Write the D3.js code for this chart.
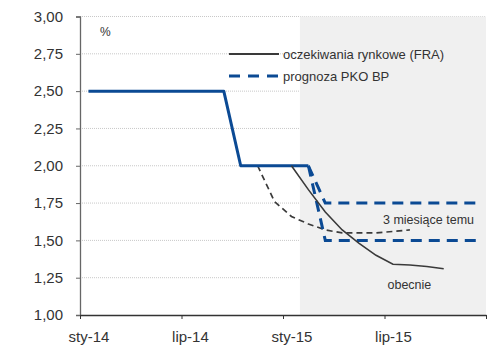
<!DOCTYPE html>
<html>
<head>
<meta charset="utf-8">
<script src="https://cdn.jsdelivr.net/npm/d3@7"></script>
<style>
  html, body { margin: 0; padding: 0; background: #fff; }
  text { font-family: "Liberation Sans", Arial, sans-serif; fill: #333; }
</style>
</head>
<body>
<svg id="chart" width="490" height="347"></svg>
<script>
// Monthly categories Jan-14 .. Dec-15
const months = ["sty-14","lut-14","mar-14","kwi-14","maj-14","cze-14","lip-14","sie-14","wrz-14","paź-14","lis-14","gru-14",
                "sty-15","lut-15","mar-15","kwi-15","maj-15","cze-15","lip-15","sie-15","wrz-15","paź-15","lis-15","gru-15"];
const xTickLabels = ["sty-14","lip-14","sty-15","lip-15"];
const yTicks = [1.00,1.25,1.50,1.75,2.00,2.25,2.50,2.75,3.00];

// NBP reference rate (history, solid blue)
const rateHistory = [2.50,2.50,2.50,2.50,2.50,2.50,2.50,2.50,2.50,2.00,2.00,2.00,2.00,2.00];
// PKO BP forecast 3 months ago (dashed blue)
const pkoForecastOld = [2.50,2.50,2.50,2.50,2.50,2.50,2.50,2.50,2.50,2.00,2.00,2.00,2.00,2.00,1.75,1.75,1.75,1.75,1.75,1.75,1.75,1.75,1.75,1.75];
// PKO BP forecast now (dashed blue)
const pkoForecastNow = [2.50,2.50,2.50,2.50,2.50,2.50,2.50,2.50,2.50,2.00,2.00,2.00,2.00,2.00,1.50,1.50,1.50,1.50,1.50,1.50,1.50,1.50,1.50,1.50];
// FRA market expectations now (solid gray), start index 12
const fraNowStart = 12;
const fraNow = [2.00,1.84,1.69,1.57,1.48,1.40,1.34,1.335,1.325,1.31];
// FRA market expectations 3 months ago (dashed gray), start index 10
const fraOldStart = 10;
const fraOld = [2.00,1.76,1.66,1.61,1.57,1.55,1.55,1.55,1.56,1.57];

const legendLabels = ["oczekiwania rynkowe (FRA)", "prognoza PKO BP"];
const annotations = ["3 miesiące temu", "obecnie"];

const svg = d3.select("#chart");
const blue = "#0b4a94";
const dark = "#3a3a3a";

const x = d3.scaleLinear().domain([0, months.length]).range([80, 486]);
const y = d3.scaleLinear().domain([1, 3]).range([315, 16.5]);
const cx = i => x(i + 0.5);

const fmt = v => d3.format(".2f")(v).replace(".", ",");

// gridlines
svg.append("g").selectAll("line").data(yTicks.filter(v => v > 1)).join("line")
  .attr("x1", x(0)).attr("x2", x(24))
  .attr("y1", d => y(d)).attr("y2", d => y(d))
  .attr("stroke", "#c8c8c8").attr("stroke-width", 1).attr("stroke-dasharray", "1,1");

// shaded forecast area (from Feb-15)
svg.append("rect")
  .attr("x", x(13)).attr("y", y(3))
  .attr("width", x(24) - x(13)).attr("height", y(1) - y(3))
  .attr("fill", "#f0f0f0");

// Y axis
const yAxis = svg.append("g").attr("transform", `translate(${x(0)},0)`)
  .call(d3.axisLeft(y).tickValues(yTicks).tickFormat(fmt).tickSize(4).tickPadding(13));
yAxis.select(".domain").attr("stroke", "#666").attr("stroke-width", 1.3);
yAxis.selectAll(".tick line").attr("stroke", "#666");
yAxis.selectAll("text").style("font-size", "15px").attr("fill", "#333");

// X axis ticks
const xAxis = svg.append("g").attr("transform", `translate(0,${y(1)})`)
  .call(d3.axisBottom(x).tickValues([0,6,12,18,24]).tickFormat("").tickSize(4).tickSizeOuter(0));
xAxis.select(".domain").attr("stroke", "#333").attr("stroke-width", 1.3);
xAxis.selectAll(".tick line").attr("stroke", "#333");

// X labels centred on categories
const labelIdx = xTickLabels.map(l => months.indexOf(l));
const xLab = svg.append("g").attr("transform", `translate(0,${y(1)})`)
  .call(d3.axisBottom(x).tickValues(labelIdx.map(i => i + 0.5))
    .tickFormat((d, i) => xTickLabels[i]).tickSize(0).tickPadding(16));
xLab.select(".domain").remove();
xLab.selectAll("text").style("font-size", "15px").attr("fill", "#333");

// % label
svg.append("text").attr("x", 100).attr("y", 36).style("font-size", "12px").text("%");

const line = d3.line().x(d => cx(d.i)).y(d => y(d.v));
const toPts = (arr, start = 0) => arr.map((v, k) => ({ i: start + k, v }));

// FRA 3 months ago (dashed gray)
svg.append("path").datum(toPts(fraOld, fraOldStart)).attr("d", line)
  .attr("fill", "none").attr("stroke", dark).attr("stroke-width", 1.7).attr("stroke-dasharray", "6,4");

// PKO history solid
svg.append("path").datum(toPts(rateHistory)).attr("d", line)
  .attr("fill", "none").attr("stroke", blue).attr("stroke-width", 3).attr("stroke-linejoin", "round");

// PKO forecasts dashed (from last history point)
[pkoForecastOld, pkoForecastNow].forEach(arr => {
  svg.append("path").datum(toPts(arr.slice(13), 13)).attr("d", line)
    .attr("fill", "none").attr("stroke", blue).attr("stroke-width", 3).attr("stroke-dasharray", "11,7");
});

// FRA now (solid gray)
svg.append("path").datum(toPts(fraNow, fraNowStart)).attr("d", line)
  .attr("fill", "none").attr("stroke", dark).attr("stroke-width", 1.6);

// annotations
svg.append("text").attr("x", 383).attr("y", 224).style("font-size", "12.5px").text(annotations[0]);
svg.append("text").attr("x", 387.5).attr("y", 289).style("font-size", "12.5px").text(annotations[1]);

// legend
const lg = svg.append("g");
lg.append("line").attr("x1", 229).attr("x2", 279).attr("y1", 54).attr("y2", 54)
  .attr("stroke", dark).attr("stroke-width", 1.8);
lg.append("line").attr("x1", 229).attr("x2", 279).attr("y1", 76).attr("y2", 76)
  .attr("stroke", blue).attr("stroke-width", 3).attr("stroke-dasharray", "11,8");
lg.append("text").attr("x", 283).attr("y", 58.5).style("font-size", "13px").text(legendLabels[0]);
lg.append("text").attr("x", 283).attr("y", 80.5).style("font-size", "13px").text(legendLabels[1]);
</script>
</body>
</html>
